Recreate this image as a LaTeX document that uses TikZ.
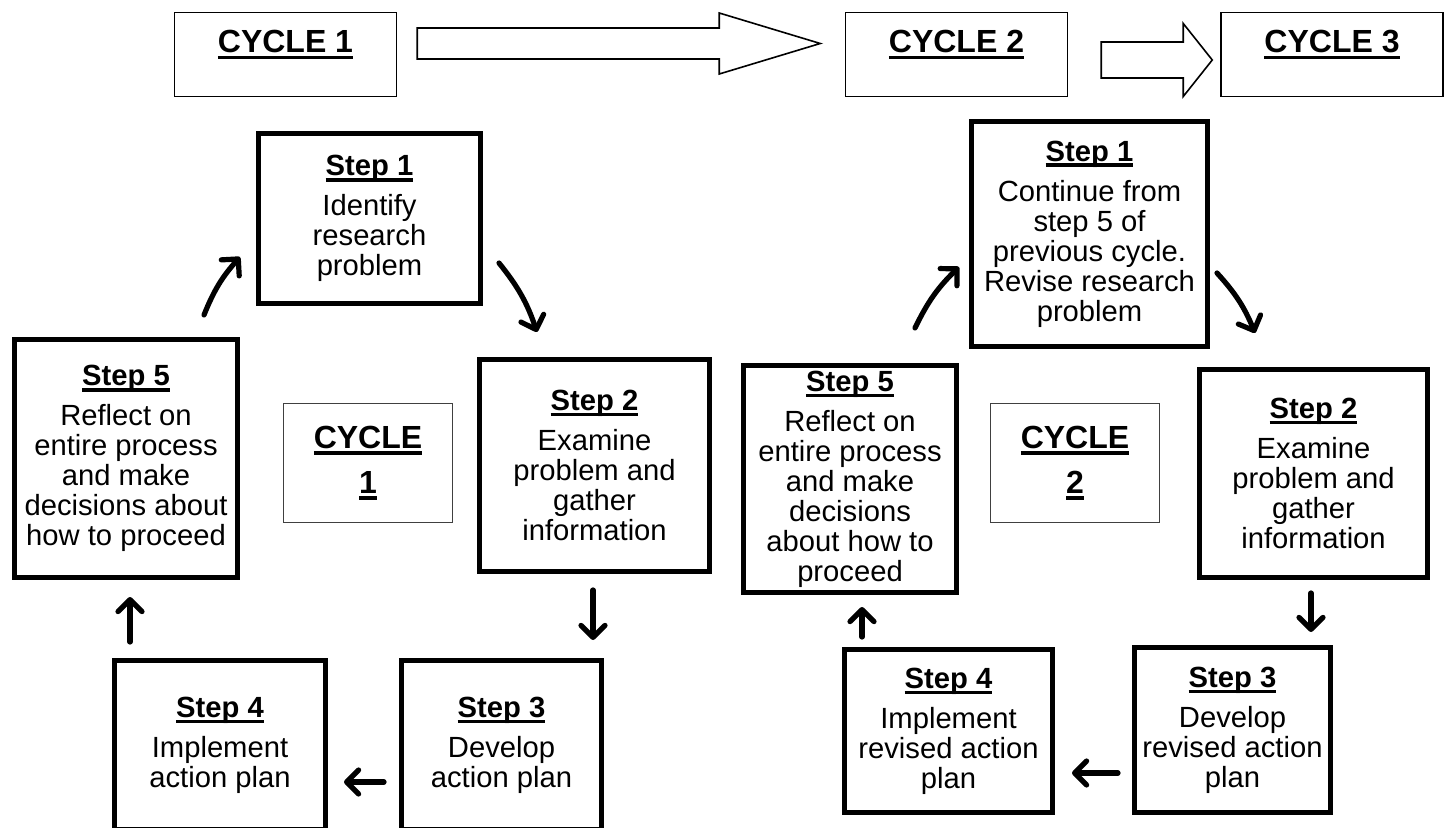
\documentclass[tikz,border=0pt]{standalone}
\usepackage{fontspec}
\setmainfont{Liberation Sans}
\usepackage{tikz}
\usetikzlibrary{arrows.meta,calc}
\newsavebox{\titlebox}
\newcommand{\ulbf}[1]{\sbox{\titlebox}{\bfseries #1}\rlap{\rule[-0.2em]{\wd\titlebox}{0.12em}}\usebox{\titlebox}}
\tikzset{
	hollow arrow/.style={draw=black, line width=0.8pt, fill=white}, % block arrows of the top row
	cycle arrow/.style={->, line width=2.6pt, line cap=round},
}

\begin{document}
\begin{tikzpicture}[x=0.5pt, y=-0.5pt, >={Straight Barb[length=6pt, width=12pt, line cap=round, line join=round]}]
	\tikzstyle{stepbox} = [rectangle, draw=black, line width=2.5pt, align=center, inner sep=1pt, font=\fontsize{14.6}{15}\selectfont]
	\tikzstyle{cyclebox} = [rectangle, draw=black!75, line width=0.6pt, align=center, minimum width=84.5pt, minimum height=59.5pt, font=\fontsize{16}{18.5}\selectfont]
	\tikzstyle{toplabel} = [rectangle, draw=black, line width=0.75pt, minimum width=111pt, minimum height=42pt, inner sep=0pt, text height=13pt, text depth=14.5pt, font=\fontsize{16}{18.5}\selectfont]
	\path[use as bounding box, fill=white] (0, 0) rectangle (1450, 828);
	\clip (0, 0) rectangle (1450, 828);
	% top row
	\node (cyc1)[toplabel] at (285.5, 54.5) {\ulbf{CYCLE 1}};
	\node (cyc2)[toplabel] at (956.5, 54.5) {\ulbf{CYCLE 2}};
	\node (cyc3)[toplabel] at (1332, 54.5) {\ulbf{CYCLE 3}};
	\coordinate (a12) at ($(cyc1.east)+(20, -11)$);
	\coordinate (a23) at ($(cyc2.east)+(33, 5.5)$);
	\draw [hollow arrow] (a12) ++(0, -15.5) -- ++(302, 0) -- ++(0, -15) -- ++(101, 30.5) -- ++(-101, 30.5) -- ++(0, -15) -- ++(-302, 0) -- cycle;
	\draw [hollow arrow] (a23) ++(0, -18) -- ++(82, 0) -- ++(0, -18.5) -- ++(29, 36.5) -- ++(-29, 36.5) -- ++(0, -18.5) -- ++(-82, 0) -- cycle;
	% cycle 1
	\node (s1)[stepbox, minimum width=111pt, minimum height=85pt] at (369.5, 218.5) {\ulbf{Step 1}\\[5pt] Identify\\ research\\ problem};
	\node (s2)[stepbox, minimum width=115pt, minimum height=106pt] at (594.5, 465.5) {\ulbf{Step 2}\\[5pt] Examine\\ problem and\\ gather\\ information};
	\node (s3)[stepbox, minimum width=100pt, minimum height=84.5pt] at (501.5, 745) {\ulbf{Step 3}\\[5pt] Develop\\ action plan};
	\node (s4)[stepbox, minimum width=105.5pt, minimum height=84.5pt] at (220, 745) {\ulbf{Step 4}\\[5pt] Implement\\ action plan};
	\node (s5)[stepbox, minimum width=111.5pt, minimum height=119pt] at (126, 458.5) {\ulbf{Step 5}\\[5pt] Reflect on\\ entire process\\ and make\\ decisions about\\ how to proceed};
	\node (c1)[cyclebox] at (368, 463) {\ulbf{CYCLE}\\[4pt] \ulbf{1}};
	\draw [cycle arrow] ($(s1.south east)+(16, -43)$) to[bend left=10] ($(s2.north west)+(60, -25)$);
	\draw [cycle arrow] ($(s2.south)+(-1.5, 16)$) -- ($(s2.south |- s3.north)+(-1.5, -18)$);
	\draw [cycle arrow] ($(s3.west)+(-15, 37)$) -- ($(s4.east)+(16, 37)$);
	\draw [cycle arrow] ($(s4.north west)+(18, -16)$) -- ($(s4.north west |- s5.south)+(18, 17)$);
	\draw [cycle arrow] ($(s5.north east)+(-36, -22)$) to[bend left=10] ($(s1.south west)+(-16, -49)$);
	% cycle 2
	\node (t1)[stepbox, minimum width=118pt, minimum height=112.5pt] at (1089.5, 234) {\ulbf{Step 1}\\[5pt] Continue from\\ step 5 of\\ previous cycle.\\ Revise research\\ problem};
	\node (t2)[stepbox, minimum width=114pt, minimum height=104pt] at (1313.5, 473.5) {\ulbf{Step 2}\\[5pt] Examine\\ problem and\\ gather\\ information};
	\node (t3)[stepbox, minimum width=98pt, minimum height=82.5pt] at (1232.5, 730) {\ulbf{Step 3}\\[5pt] Develop\\ revised action\\ plan};
	\node (t4)[stepbox, minimum width=104pt, minimum height=81.5pt] at (948.5, 731) {\ulbf{Step 4}\\[5pt] Implement\\ revised action\\ plan};
	\node (t5)[stepbox, minimum width=106.5pt, minimum height=113.5pt] at (850, 479) {\ulbf{Step 5}\\[5pt] Reflect on\\ entire process\\ and make\\ decisions\\ about how to\\ proceed};
	\node (c2)[cyclebox] at (1075, 463) {\ulbf{CYCLE}\\[4pt] \ulbf{2}};
	\draw [cycle arrow] ($(t1.south east)+(7, -76)$) to[bend left=10] ($(t2.north west)+(58, -34)$);
	\draw [cycle arrow] ($(t2.south)+(-2.5, 13)$) -- ($(t2.south |- t3.north)+(-2.5, -13)$);
	\draw [cycle arrow] ($(t3.west)+(-14, 43)$) -- ($(t4.east)+(17, 42)$);
	\draw [cycle arrow] ($(t4.north west)+(20, -10)$) -- ($(t4.north west |- t5.south)+(20, 12)$);
	\draw [cycle arrow] ($(t5.north east)+(-44, -35)$) to[bend left=10] ($(t1.south west)+(-10, -82)$);
\end{tikzpicture}
\end{document}
